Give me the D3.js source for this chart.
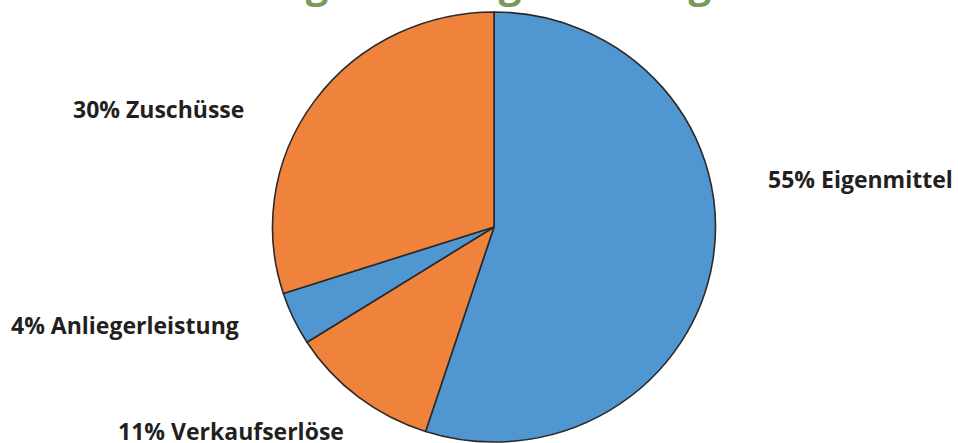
<!DOCTYPE html>
<html>
<head>
<meta charset="utf-8">
<script src="https://cdn.jsdelivr.net/npm/d3@7"></script>
<style>
  body { margin: 0; background: #fff; }
  svg { display: block; }
  .label { font-family: "Open Sans", sans-serif; font-weight: 700; font-size: 23px; fill: #231f20; }
  .title { font-family: "Open Sans", sans-serif; font-weight: 700; font-size: 40px; fill: #7a9a5c; }
</style>
</head>
<body>
<div id="chart"></div>
<script>
// data, clockwise from 12 o'clock
var categories = ["Eigenmittel", "Verkaufserlöse", "Anliegerleistung", "Zuschüsse"];
var shares = [55, 11, 4, 30];
var sliceColors = ["#5097d1", "#f0833b", "#5097d1", "#f0833b"];

// label anchors (left edge, baseline), same order as categories
var labelPos = [[768, 188], [118, 440], [11, 334], [73, 118]];

var width = 958, height = 443;
var cx = 494, cy = 227, rx = 221.5, ry = 215;

var svg = d3.select("#chart").append("svg")
    .attr("width", width)
    .attr("height", height);

// title runs off the top of the picture, only descenders show
svg.append("text")
    .attr("class", "title")
    .attr("x", 390)
    .attr("y", -2)
    .attr("text-anchor", "middle")
    .text("Finanzierung der Neugestaltung");

var pie = d3.pie().sort(null).value(function(d) { return d; });
var arc = d3.arc().innerRadius(0).outerRadius(rx);

var g = svg.append("g")
    .attr("transform", "translate(" + cx + "," + cy + ") scale(1," + (ry / rx) + ")");

g.selectAll("path")
    .data(pie(shares))
    .enter().append("path")
    .attr("d", arc)
    .attr("fill", function(d, i) { return sliceColors[i]; })
    .attr("stroke", "#2a2a2a")
    .attr("stroke-width", 1.6)
    .attr("vector-effect", "non-scaling-stroke")
    .attr("stroke-linejoin", "round");

svg.selectAll("text.label")
    .data(categories)
    .enter().append("text")
    .attr("class", "label")
    .attr("x", function(d, i) { return labelPos[i][0]; })
    .attr("y", function(d, i) { return labelPos[i][1]; })
    .text(function(d, i) { return shares[i] + "% " + d; });
</script>
</body>
</html>
